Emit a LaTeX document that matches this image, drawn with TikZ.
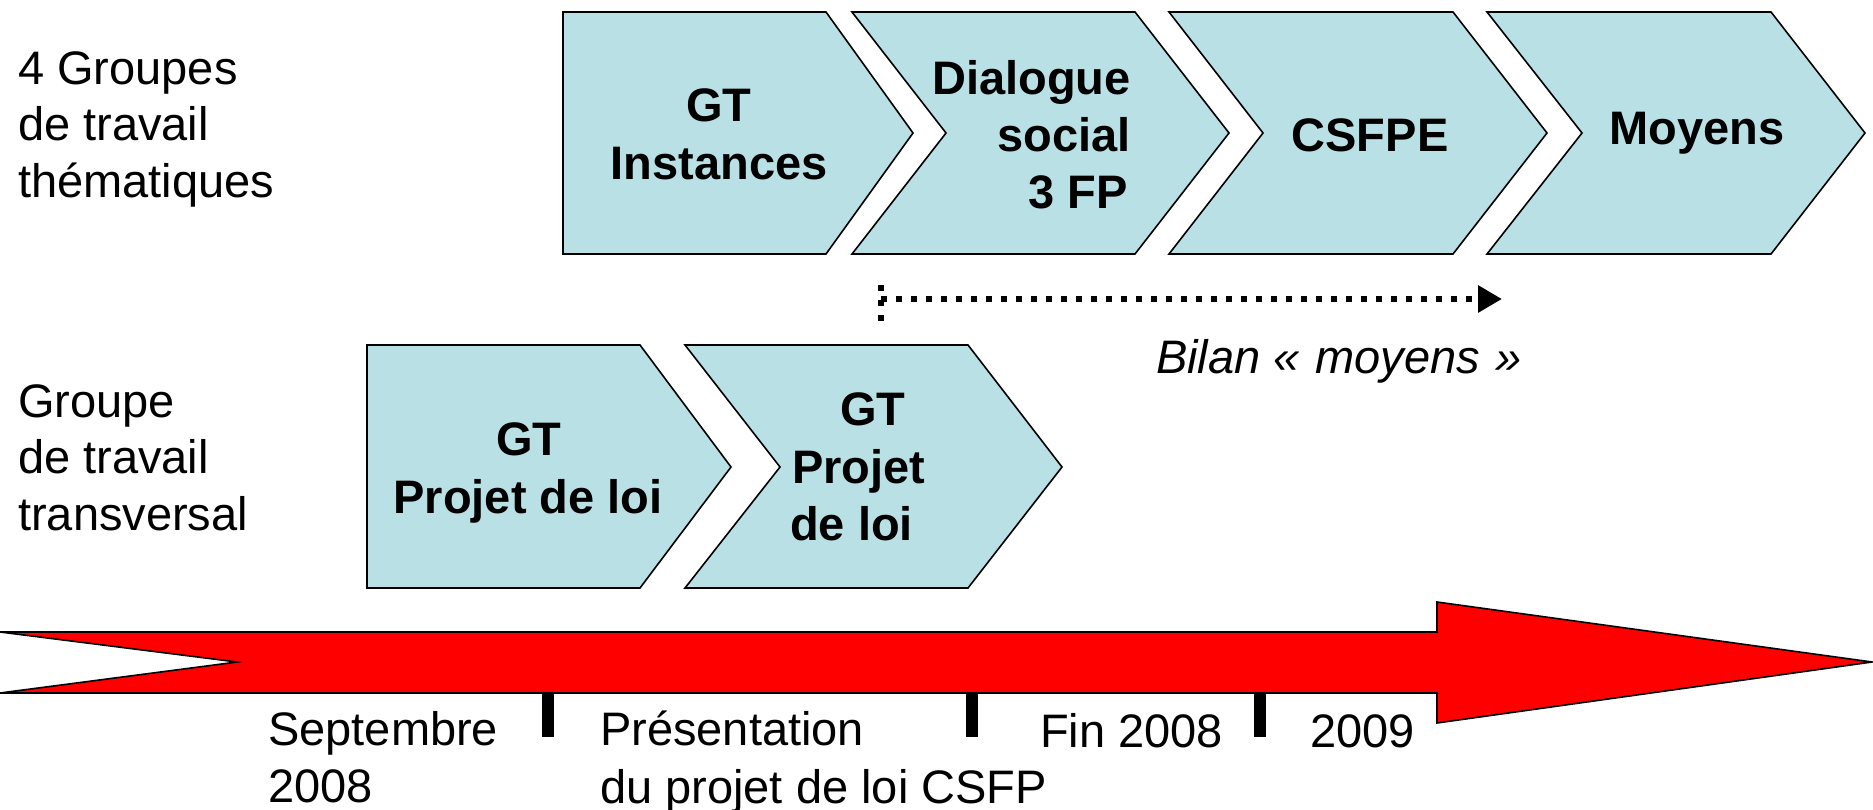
\documentclass[tikz,border=0pt]{standalone}
\usepackage{fontspec}
\setmainfont{Liberation Sans}
\usetikzlibrary{arrows.meta}
\definecolor{chevfill}{HTML}{B9E0E4}
\definecolor{arrred}{HTML}{FF0000}
\begin{document}
\begin{tikzpicture}[x=1pt,y=-1pt,
  chev/.style={draw=black, line width=1.6pt, fill=chevfill, line join=miter},
  timearrow/.style={draw=black, line width=1.6pt, fill=arrred, line join=miter},
  boxtxt/.style={font=\fontsize{47}{57}\selectfont\bfseries, inner sep=0pt},
  lbl/.style={font=\fontsize{47}{57}\selectfont, inner sep=0pt},
  bilantxt/.style={font=\fontsize{47}{57}\selectfont\itshape, inner sep=0pt},
  ticker/.style={line width=12pt},
  dotline/.style={line width=6pt, dash pattern=on 6pt off 9pt},
]
\useasboundingbox (0,0) rectangle (1873,810);
\fill[white] (0,0) rectangle (1873,810);

% top row chevrons
\draw[chev] (563,12) -- (826,12) -- (913,133) -- (826,254) -- (563,254) -- cycle;
\draw[chev] (852,12) -- (1135,12) -- (1229,133) -- (1135,254) -- (852,254) -- (946,133) -- cycle;
\draw[chev] (1169,12) -- (1453,12) -- (1547,133) -- (1453,254) -- (1169,254) -- (1263,133) -- cycle;
\draw[chev] (1487,12) -- (1771,12) -- (1865,133) -- (1771,254) -- (1487,254) -- (1582,133) -- cycle;

% middle row chevrons
\draw[chev] (367,345) -- (640,345) -- (731,467) -- (640,588) -- (367,588) -- cycle;
\draw[chev] (685,345) -- (968,345) -- (1062,467) -- (968,588) -- (685,588) -- (780,467) -- cycle;

% time arrow
\draw[timearrow] (0,632) -- (1437,632) -- (1437,602) -- (1872,662) -- (1437,723) -- (1437,693) -- (0,693) -- (237,662) -- cycle;

% ticks
\coordinate (t1a) at (548,693); \coordinate (t1b) at (548,737);
\coordinate (t2a) at (972,693); \coordinate (t2b) at (972,737);
\coordinate (t3a) at (1260,693); \coordinate (t3b) at (1260,737);
\draw[ticker] (t1a) -- (t1b);
\draw[ticker] (t2a) -- (t2b);
\draw[ticker] (t3a) -- (t3b);

% left labels
\node[lbl, anchor=base west] (l1a) at (18,85) {4 Groupes};
\node[lbl, anchor=base west] (l1b) at (18,141) {de travail};
\node[lbl, anchor=base west] (l1c) at (18,198) {thématiques};
\node[lbl, anchor=base west] (l2a) at (18,417) {Groupe};
\node[lbl, anchor=base west] (l2b) at (18,473) {de travail};
\node[lbl, anchor=base west] (l2c) at (18,530) {transversal};

% box texts
\node[boxtxt, anchor=base] (b1a) at (719,122) {GT};
\node[boxtxt, anchor=base] (b1b) at (719,180) {Instances};
\node[boxtxt, anchor=base east] (b2a) at (1131,95) {Dialogue};
\node[boxtxt, anchor=base east] (b2b) at (1131,152) {social};
\node[boxtxt, anchor=base east] (b2c) at (1128,209) {3 FP};
\node[boxtxt, anchor=base] (b3) at (1370,152) {CSFPE};
\node[boxtxt, anchor=base] (b4) at (1697,145) {Moyens};
\node[boxtxt, anchor=base] (b5a) at (529,455) {GT};
\node[boxtxt, anchor=base] (b5b) at (528,513) {Projet de loi};
\node[boxtxt, anchor=base west] (b6a) at (840,425) {GT};
\node[boxtxt, anchor=base west] (b6b) at (792,483) {Projet};
\node[boxtxt, anchor=base west] (b6c) at (790,540) {de loi};

% bilan arrow
\coordinate (bv1) at (881,285);
\coordinate (bv2) at (881,324);
\coordinate (bs) at (881,299);
\coordinate (be) at (1502,299);
\draw[dotline] (bv1) -- (bv2);
\draw[dotline, -{Triangle[length=24pt,width=26pt]}] (bs) -- (be);
\node[bilantxt, anchor=base west] (bil) at (1156,373) {Bilan «\,\,moyens\,\,»};

% timeline labels
\node[lbl, anchor=base west] (d1a) at (268,745) {Septembre};
\node[lbl, anchor=base west] (d1b) at (268,802) {2008};
\node[lbl, anchor=base west] (d2a) at (600,745) {Présentation};
\node[lbl, anchor=base west] (d2b) at (600,803) {du projet de loi CSFP};
\node[lbl, anchor=base west] (d3) at (1040,747) {Fin 2008};
\node[lbl, anchor=base west] (d4) at (1310,747) {2009};
\end{tikzpicture}
\end{document}
